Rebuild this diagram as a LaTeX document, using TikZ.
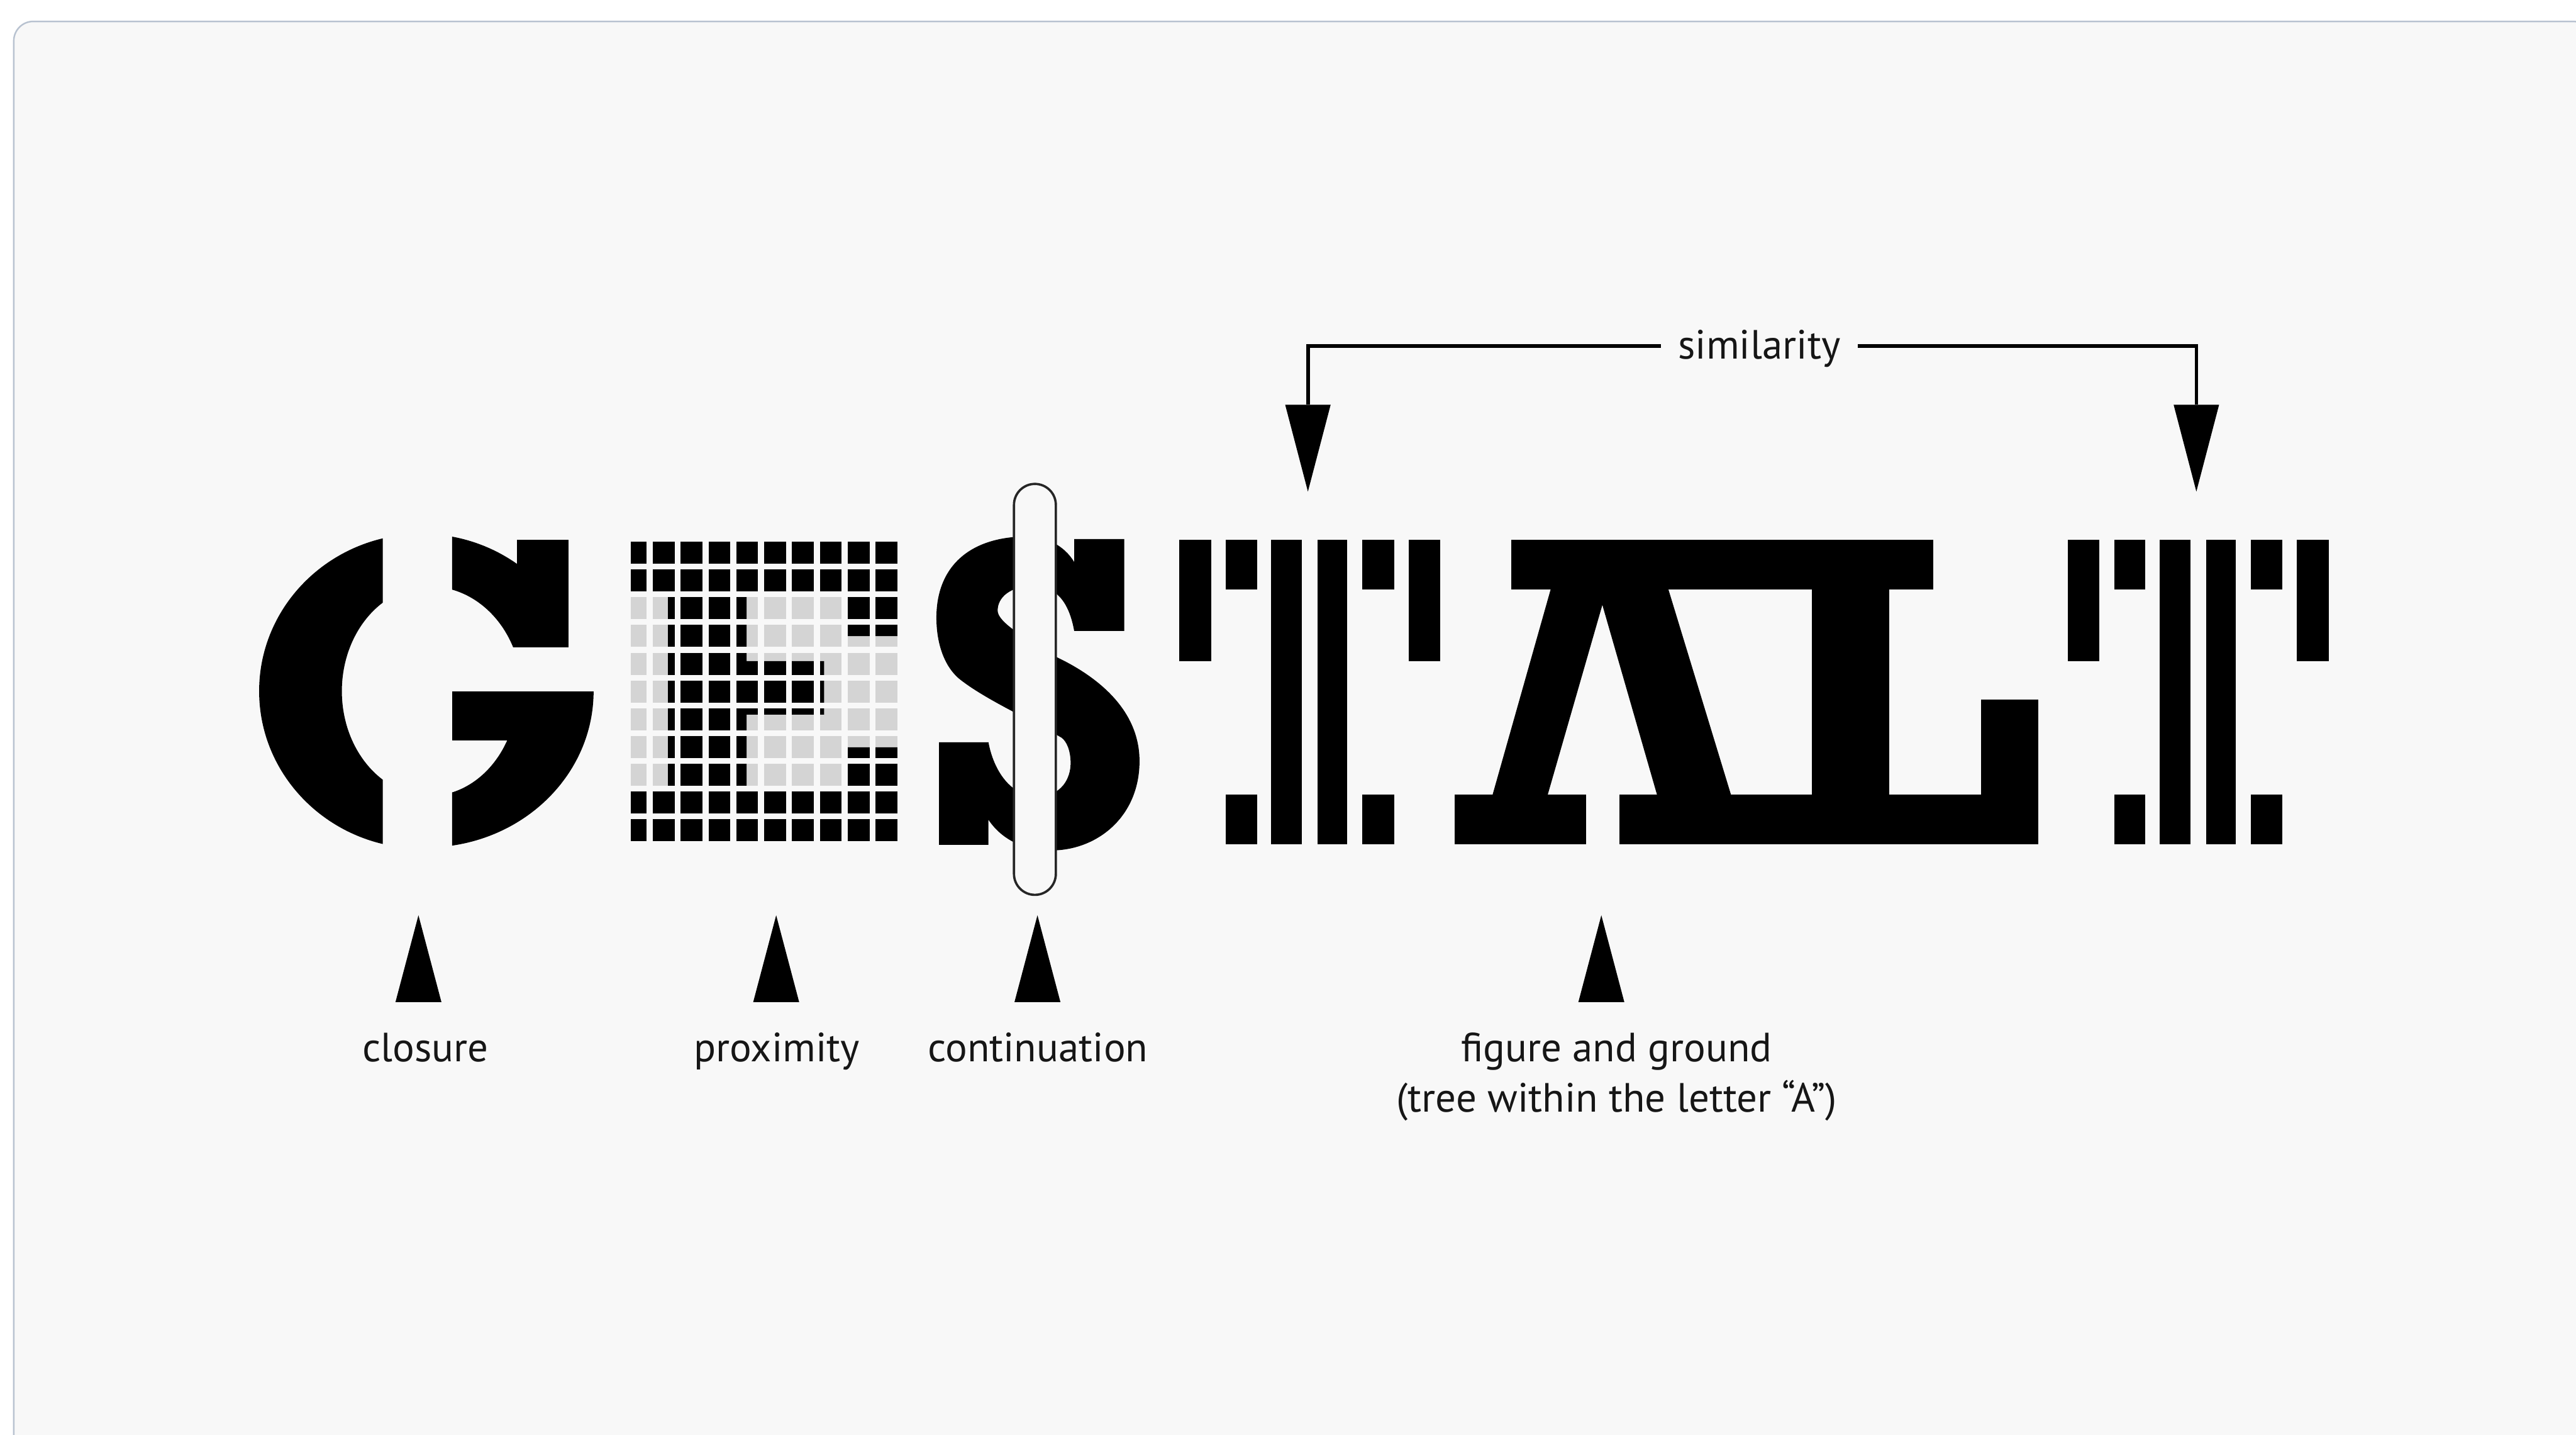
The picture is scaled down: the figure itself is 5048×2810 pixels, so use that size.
\documentclass[tikz,border=0pt]{standalone}
\usepackage{fontspec}
\newfontfamily\labfont{PT Sans}
\definecolor{pagebg}{RGB}{248,248,248}
\definecolor{frameline}{RGB}{184,194,208}
\definecolor{cellgray}{RGB}{212,212,212}
\definecolor{inkc}{RGB}{22,22,22}
\tikzset{
  glyph/.style={fill=black},
  lab/.style={font=\labfont\fontsize{22.76pt}{27.9pt}\selectfont, text=inkc, inner sep=0pt, anchor=base},
  pointer/.style={fill=black},
  bracket/.style={draw=black, line width=0.07cm, line join=miter},
  capsule/.style={draw=black!85, fill=pagebg, line width=0.045cm, rounded corners=0.41cm},
  frame/.style={draw=frameline, fill=pagebg, line width=0.03cm, rounded corners=0.38cm}
}
\newcommand{\gridcells}{%
  \foreach \r in {0,...,10}{%
    \fill (1235.5,{1061.2+54.4*\r}) rectangle ++(32,43);
    \foreach \c in {0,...,8}{%
      \fill ({1279.2+54.6*\c},{1061.2+54.4*\r}) rectangle ++(42.6,43);
    }%
  }%
}
\newcommand{\stencilT}[1]{%
  \fill[glyph] ({#1+0},1058) rectangle ({#1+62},1295);
  \fill[glyph] ({#1+91},1058) rectangle ({#1+152},1155);
  \fill[glyph] ({#1+91},1556) rectangle ({#1+152},1654);
  \fill[glyph] ({#1+180},1058) rectangle ({#1+240},1654);
  \fill[glyph] ({#1+271},1058) rectangle ({#1+329},1654);
  \fill[glyph] ({#1+359},1058) rectangle ({#1+421},1155);
  \fill[glyph] ({#1+359},1556) rectangle ({#1+421},1654);
  \fill[glyph] ({#1+449},1058) rectangle ({#1+511},1295);
}
\begin{document}
\begin{tikzpicture}[x=0.01cm,y=-0.01cm]
\useasboundingbox (0,0) rectangle (5048,2810);
\clip (0,0) rectangle (5048,2810);
\fill[white] (0,0) rectangle (5048,2810);
\draw[frame] (27,42) rectangle (5080,2880);

% ---------- G (closure) ----------
\begin{scope}
  \clip (480,1000) rectangle (750,1700);
  \fill[glyph, even odd rule] (826,1354) ellipse [x radius=3.18cm, y radius=3.08cm]
                              (842,1354) ellipse [x radius=1.72cm, y radius=2.05cm];
\end{scope}
\begin{scope}
  \clip (886,1000) rectangle (1114,1268);
  \fill[glyph, even odd rule] (826,1354) ellipse [x radius=3.18cm, y radius=3.08cm]
                              (842,1354) ellipse [x radius=1.80cm, y radius=2.05cm];
\end{scope}
\fill[glyph] (1013,1058) rectangle (1114,1268);
\begin{scope}
  \clip (886,1355) rectangle (1200,1700);
  \fill[glyph, even odd rule] (835,1354) ellipse [x radius=3.28cm, y radius=3.06cm]
                              (842,1354) ellipse [x radius=1.72cm, y radius=2.05cm];
  \fill[glyph] (886,1355) rectangle (1100,1451);
\end{scope}

% ---------- E (proximity) ----------
\begin{scope}[fill=cellgray]
  \gridcells
\end{scope}
\begin{scope}
  \clip (1200,1040) rectangle (1780,1164)
        (1655,1040) rectangle (1780,1246)
        (1309,1040) rectangle (1463,1660)
        (1463,1295) rectangle (1615,1400)
        (1655,1464) rectangle (1780,1660)
        (1200,1546) rectangle (1780,1660);
  \begin{scope}[fill=black]
    \gridcells
  \end{scope}
\end{scope}

% ---------- S (continuation) ----------
\fill[glyph] (2105,1101) -- (2105,1056) -- (2203,1056) -- (2203,1236) -- (2105,1236)
  .. controls (2095,1180) and (2070,1148) .. (2025,1148)
  .. controls (1980,1148) and (1955,1170) .. (1955,1196)
  .. controls (1955,1215) and (1990,1240) .. (2070,1287)
  .. controls (2150,1325) and (2233,1390) .. (2233,1491)
  .. controls (2233,1600) and (2150,1666) .. (2060,1666)
  .. controls (2000,1666) and (1960,1640) .. (1937,1606)
  -- (1937,1655) -- (1840,1655) -- (1840,1454) -- (1937,1454)
  .. controls (1945,1500) and (1975,1560) .. (2033,1560)
  .. controls (2080,1560) and (2098,1525) .. (2098,1495)
  .. controls (2098,1470) and (2090,1452) .. (2080,1445)
  .. controls (2020,1410) and (1930,1370) .. (1880,1330)
  .. controls (1850,1305) and (1835,1260) .. (1835,1210)
  .. controls (1835,1110) and (1900,1052) .. (2010,1051)
  .. controls (2050,1051) and (2085,1068) .. (2105,1101) -- cycle;
\draw[capsule] (1987,948) rectangle (2069,1753);

% ---------- T, A L, T (similarity, figure/ground) ----------
\stencilT{2311}
\stencilT{4052}
\fill[glyph] (2962,1058) rectangle (3788,1155);
\fill[glyph] (3040,1150) -- (3268,1150) -- (3393,1560) -- (3248,1560) -- (3140,1185)
             -- (3032,1560) -- (2924,1560) -- cycle;
\fill[glyph] (2851,1556) rectangle (3108,1654);
\fill[glyph] (3173,1556) rectangle (3994,1654);
\fill[glyph] (3550,1150) rectangle (3702,1560);
\fill[glyph] (3882,1371) rectangle (3994,1560);

% ---------- similarity bracket ----------
\node[lab, anchor=center, minimum width=3.85cm, text height=0.5cm, text depth=0cm] (sim) at (3447.5,678) {similarity};
\coordinate (simBaseL) at (2563,793);
\coordinate (simBaseR) at (4304,793);
\coordinate (simTipL) at (2563,963);
\coordinate (simTipR) at (4304,963);
\draw[bracket] (sim.west) -| (simBaseL);
\draw[bracket] (sim.east) -| (simBaseR);
\fill[pointer] (simBaseL) ++(-44.5,0) -- ++(89,0) -- (simTipL) -- cycle;
\fill[pointer] (simBaseR) ++(-44.5,0) -- ++(89,0) -- (simTipR) -- cycle;

% ---------- bottom pointers and labels ----------
\coordinate (closTip) at (820,1793);
\coordinate (proxTip) at (1521,1793);
\coordinate (contTip) at (2033,1793);
\coordinate (figTip) at (3138,1793);
\foreach \t in {closTip,proxTip,contTip,figTip}{
  \fill[pointer] (\t) -- ++(-45,170) -- ++(90,0) -- cycle;
}
\node[lab] (closure) at (834,2080) {closure};
\node[lab] (proximity) at (1522,2080) {proximity};
\node[lab] (continuation) at (2034,2080) {continuation};
\node[lab] (figground) at (3168,2080) {figure and ground};
\node[lab] (treeA) at (3168,2178) {(tree within the letter “A”)};
\end{tikzpicture}
\end{document}
